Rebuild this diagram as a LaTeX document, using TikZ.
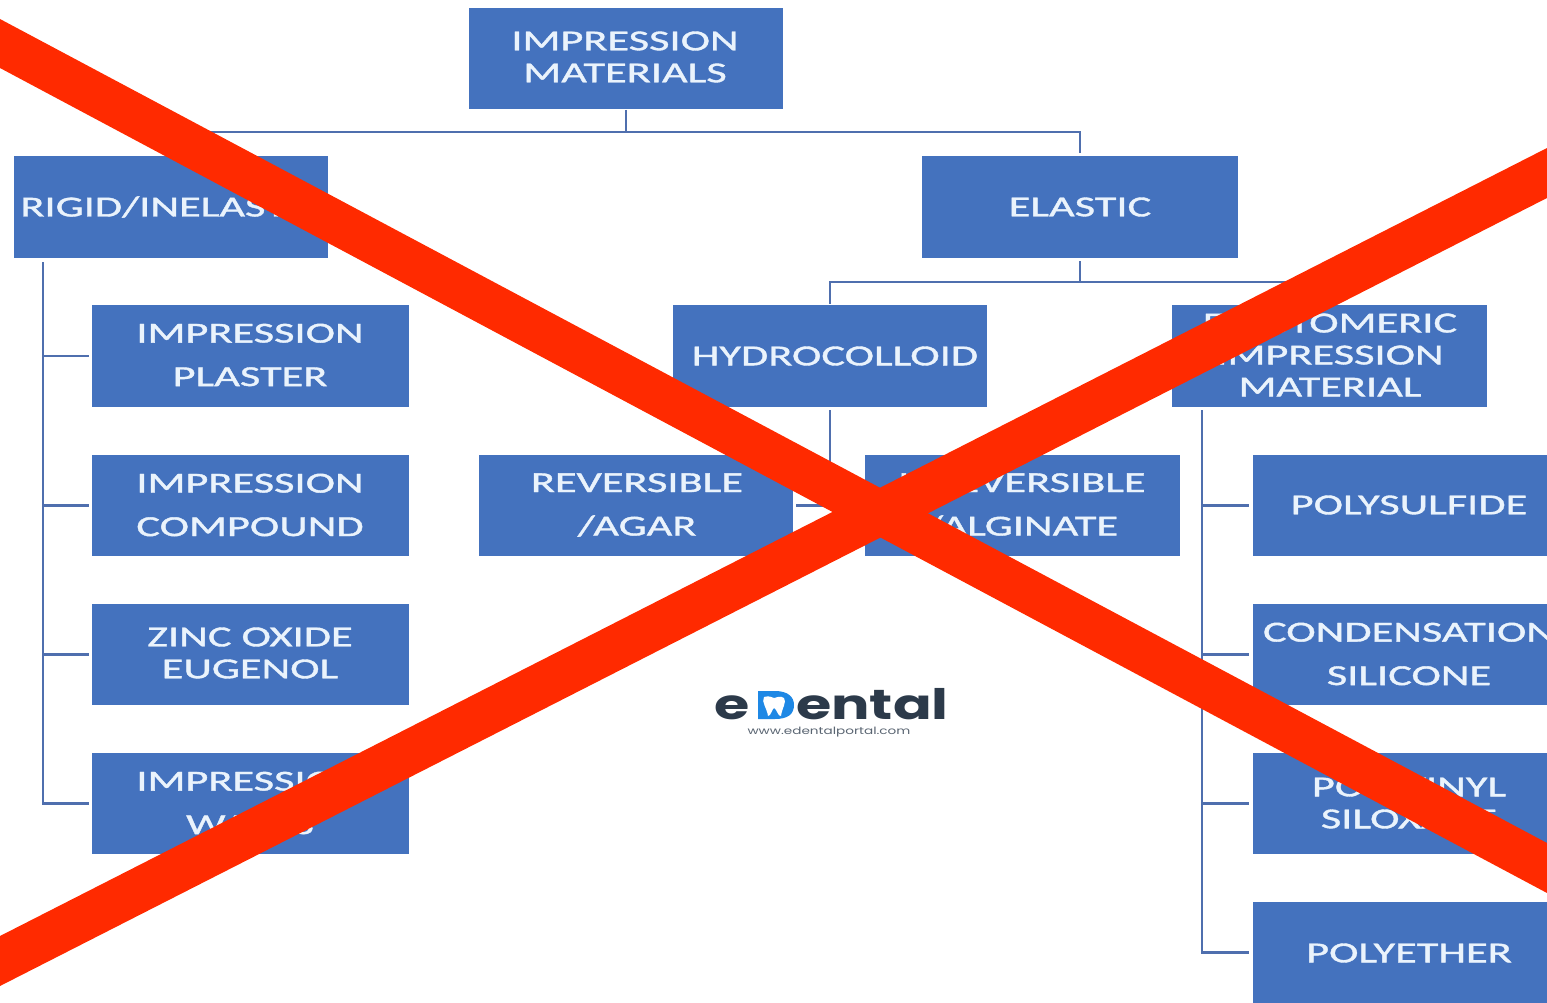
\documentclass[tikz,border=0pt]{standalone}
\usepackage{fontspec}
\newfontfamily\lab[FakeStretch=1.53,FakeBold=1.3]{Carlito}
\newfontfamily\logof[FakeStretch=1.36]{Poppins}
\definecolor{boxblue}{HTML}{4472BE}
\definecolor{linkblue}{HTML}{4F6FAE}
\definecolor{txtw}{HTML}{EAF3FC}
\definecolor{xred}{HTML}{FF2A00}
\definecolor{logod}{HTML}{2C3A4A}
\definecolor{logog}{HTML}{5A6572}
\definecolor{logob}{HTML}{1E88E5}
\tikzset{
  bxs/.style={fill=boxblue,draw=none,inner sep=0pt,outer sep=0pt},
  txs/.style={text=txtw,inner sep=0pt,outer sep=0pt,align=center},
  conn/.style={draw=linkblue,line width=2.9pt},
  xband/.style={fill=xred,draw=none}
}
\newcommand{\bxn}[9]{%
  \pgfmathsetmacro{\bxw}{#4-#2}\pgfmathsetmacro{\bxh}{#5-#3}%
  \pgfmathsetmacro{\bxcx}{(#4+#2)/2}\pgfmathsetmacro{\bxcy}{(#5+#3)/2}%
  \node[bxs,minimum width=\bxw pt,minimum height=\bxh pt] (#1) at (\bxcx,\bxcy) {};
  \node[txs,font=\lab\fontsize{29}{#8}\selectfont] (#1-t) at (#6,#7) {#9};
}
\begin{document}
\begin{tikzpicture}[x=1pt,y=-1pt]
\useasboundingbox (0,0) rectangle (1547,1003);
\clip (0,0) rectangle (1547,1003);
\bxn{top}{469}{8}{783}{109}{625}{57}{32}{IMPRESSION\\MATERIALS}
\bxn{rigid}{14}{156}{328}{258}{171}{207}{32}{RIGID/INELASTIC}
\bxn{elastic}{922}{156}{1238}{258}{1080}{207}{32}{ELASTIC}
\bxn{hydro}{673}{305}{987}{407}{835}{356}{32}{HYDROCOLLOID}
\bxn{elasto}{1172}{305}{1487}{407}{1330}{355}{32}{ELASTOMERIC\\IMPRESSION\\MATERIAL}
\bxn{plaster}{92}{305}{409}{407}{250}{355}{43.5}{IMPRESSION\\PLASTER}
\bxn{compound}{92}{455}{409}{556}{250}{505}{43.5}{IMPRESSION\\COMPOUND}
\bxn{zinc}{92}{604}{409}{705}{250}{653}{32}{ZINC OXIDE\\EUGENOL}
\bxn{waxes}{92}{753}{409}{854}{250}{803}{43.5}{IMPRESSION\\WAXES}
\bxn{agar}{479}{455}{793}{556}{637}{505}{43.5}{REVERSIBLE\\/AGAR}
\bxn{alginate}{865}{455}{1180}{556}{1022}{505}{43.5}{IRREVERSIBLE\\/ALGINATE}
\bxn{poly}{1253}{455}{1566}{556}{1409}{505}{32}{POLYSULFIDE}
\bxn{cond}{1253}{604}{1566}{705}{1409}{654}{43.5}{CONDENSATION\\SILICONE}
\bxn{pvs}{1253}{753}{1566}{854}{1409}{803}{32}{POLYVINYL\\SILOXANE}
\bxn{ether}{1253}{902}{1566}{1003}{1409}{953}{32}{POLYETHER}
% connectors
\coordinate (j1) at (626,132);
\coordinate (j2) at (1080,282);
\coordinate (j3) at (830,505.5);
\draw[conn] ([yshift=-1pt]top.south) -- (j1);
\draw[conn] (j1) -| ([yshift=3pt]rigid.north);
\draw[conn] (j1) -| ([yshift=3pt]elastic.north);
\draw[conn] ([yshift=-3pt]elastic.south) -- (j2);
\draw[conn] (j2) -| ([yshift=1pt]hydro.north);
\draw[conn] (j2) -| ([yshift=1pt]elasto.north);
\draw[conn] ([yshift=-3pt]hydro.south) -- (j3);
\draw[conn] (j3) -- ([xshift=3pt]agar.east);
\draw[conn] (j3) -- (alginate.west);
\foreach \t in {plaster,compound,zinc,waxes}
  \draw[conn] ([shift={(29pt,-4pt)}]rigid.south west) |- ([xshift=-3pt]\t.west);
\foreach \t in {poly,cond,pvs,ether}
  \draw[conn] ([shift={(30pt,-3pt)}]elasto.south west) |- ([xshift=-4pt]\t.west);
% logo
\node[inner sep=0pt,text=logod,font=\logof\fontsize{42}{42}\selectfont\bfseries,anchor=base west] (loge) at (714,719) {e};
\fill[logob] (758,691) -- (775,691) .. controls (788,691) and (794,697) .. (794,705) .. controls (794,714) and (788,719) .. (775,719) -- (758,719) -- cycle;
\fill[white] (764,697) .. controls (770,695) and (772,698) .. (774,698) .. controls (776,698) and (780,695) .. (784,698) .. controls (787,702) and (782,708) .. (781,716) .. controls (778,717) and (777,709) .. (774,708) .. controls (772,709) and (771,716) .. (768,716) .. controls (767,708) and (761,702) .. (764,697) -- cycle;
\node[inner sep=0pt,text=logod,font=\logof\fontsize{42}{42}\selectfont\bfseries,anchor=base west] (logr) at (796,719) {ental};
\node[inner sep=0pt,text=logog,font=\logof\fontsize{10}{12}\selectfont,anchor=center] (logu) at (829,732) {www.edentalportal.com};
% red cross
\fill[xband] (0,19) -- (1547,843) -- (1547,893) -- (0,68) -- cycle;
\fill[xband] (0,936) -- (1547,148) -- (1547,198) -- (0,986) -- cycle;
\end{tikzpicture}
\end{document}
